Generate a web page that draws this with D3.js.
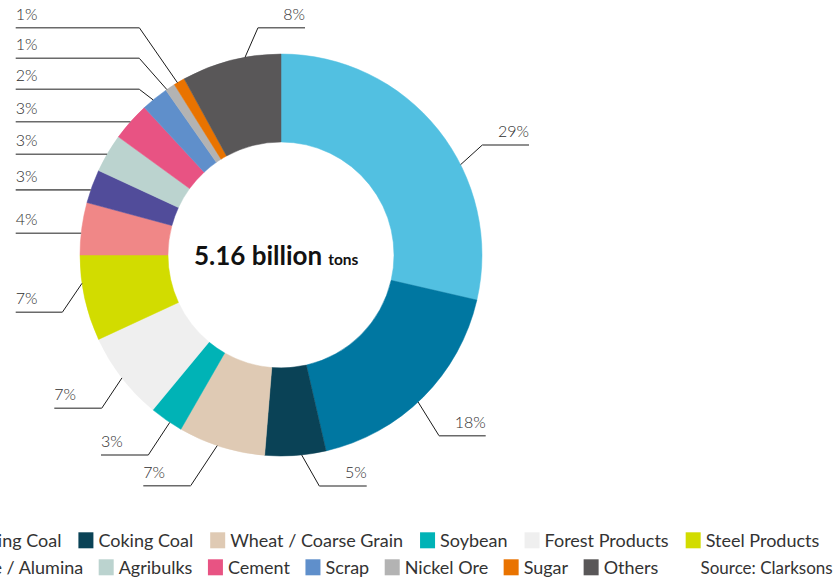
<!DOCTYPE html>
<html>
<head>
<meta charset="utf-8">
<script src="https://cdn.jsdelivr.net/npm/d3@7"></script>
<style>
  html, body { margin: 0; padding: 0; background: #fff; }
  svg { display: block; }
  text { font-family: Lato, "Noto Sans", sans-serif; }
</style>
</head>
<body>
<svg id="chart" width="834" height="580"></svg>
<script>
// ---- data ----
const categories = ["Iron Ore", "Steaming Coal", "Coking Coal", "Wheat / Coarse Grain", "Soybean",
  "Forest Products", "Steel Products", "Fertilizers", "Bauxite / Alumina", "Agribulks",
  "Cement", "Scrap", "Nickel Ore", "Sugar", "Others"];
const shares = [28.6, 17.8, 4.9, 7.0, 2.7, 7.1, 6.9, 4.2, 2.7, 3.1, 3.1, 2.2, 0.8, 0.9, 8.0];
const shareLabels = ["29%", "18%", "5%", "7%", "3%", "7%", "7%", "4%", "3%", "3%", "3%", "2%", "1%", "1%", "8%"];
const colors = ["#52c0e1", "#0077a1", "#0a4256", "#dfcab4", "#00b3b6", "#efefef", "#d2dc00",
  "#f08787", "#514c9a", "#bbd3cf", "#e85383", "#5f8fcb", "#b3b3b3", "#e97300", "#595758"];
const totalLabel = "5.16 billion";
const unitLabel = "tons";
const sourceLabel = "Source: Clarksons";
const legendRow1 = [0, 1, 2, 3, 4, 5, 6];
const legendRow2 = [7, 8, 9, 10, 11, 12, 13, 14];

// ---- layout (positions of label leaders: anchor angle on rim, elbow, end of underline) ----
const leaderLayout = [
  { a: 63.3,  ex: 482.3, ey: 145,   endX: 529,   side: "right" },
  { a: 137,   ex: 439,   ey: 435.7, endX: 485.7, side: "right" },
  { a: 174.1, ex: 319.3, ey: 486,   endX: 366.7, side: "right" },
  { a: 198.5, ex: 190.7, ey: 485.7, endX: 143.3, side: "left" },
  { a: 213.6, ex: 148.3, ey: 455,   endX: 101,   side: "left" },
  { a: 232.3, ex: 101.7, ey: 408.3, endX: 54.3,  side: "left" },
  { a: 261.9, ex: 62.3,  ey: 312.3, endX: 15.7,  side: "left" },
  { a: 276.2, ex: null,  ey: null,  endX: 15.7,  side: "left" },
  { a: 288.9, ex: null,  ey: null,  endX: 15.7,  side: "left" },
  { a: 300.1, ex: null,  ey: null,  endX: 15.7,  side: "left" },
  { a: 311.5, ex: null,  ey: null,  endX: 15.7,  side: "left" },
  { a: 320.5, ex: 139.3, ey: 89.3,  endX: 15.7,  side: "left" },
  { a: 325.4, ex: 139.3, ey: 58.3,  endX: 15.7,  side: "left" },
  { a: 329,   ex: 139.3, ey: 27.7,  endX: 15.7,  side: "left" },
  { a: 349.7, ex: 258,   ey: 27.7,  endX: 305,   side: "right" }
];

const cx = 281, cy = 255, rOuter = 201, rInner = 113;
const svg = d3.select("#chart");

const pie = d3.pie().sort(null).value(d => d).startAngle(0).endAngle(2 * Math.PI);
const arcs = pie(shares);
const arc = d3.arc().innerRadius(rInner).outerRadius(rOuter);

const g = svg.append("g").attr("transform", `translate(${cx},${cy})`);
g.selectAll("path.slice")
  .data(arcs)
  .join("path")
  .attr("class", "slice")
  .attr("d", arc)
  .attr("fill", (d, i) => colors[i])
  .attr("stroke", (d, i) => colors[i])
  .attr("stroke-width", 0.5);

// leaders
const rimPoint = (deg) => {
  const t = deg * Math.PI / 180;
  return [cx + rOuter * Math.sin(t), cy - rOuter * Math.cos(t)];
};
const lg = svg.append("g");
leaderLayout.forEach((L, i) => {
  const [sx, sy] = rimPoint(L.a);
  const ex = L.ex == null ? sx : L.ex;
  const ey = L.ey == null ? sy : L.ey;
  if (L.ex != null) {
    lg.append("line").attr("x1", sx).attr("y1", sy).attr("x2", ex).attr("y2", ey)
      .attr("stroke", "#1a1a1a").attr("stroke-width", 1);
  }
  lg.append("line").attr("x1", ex).attr("y1", ey).attr("x2", L.endX).attr("y2", ey)
    .attr("stroke", "#6a6a6a").attr("stroke-width", 1.6);
  lg.append("text")
    .attr("x", L.endX)
    .attr("y", ey - 8)
    .attr("text-anchor", L.side === "right" ? "end" : "start")
    .attr("font-size", 16)
    .attr("font-weight", 300)
    .attr("fill", "#2e2e2e")
    .text(shareLabels[i]);
});

// center text
const ct = svg.append("text").attr("x", 194).attr("y", 265).attr("fill", "#111");
ct.append("tspan").attr("font-size", 26).attr("font-weight", 700).text(totalLabel);
ct.append("tspan").attr("font-size", 15.5).attr("font-weight", 700).attr("dx", 6).text(unitLabel);

// legend
const fs = 18, sw = 15, gapIn = 5;
function drawRow(items, rightEdge, yTop, gapOut) {
  const row = svg.append("g");
  const widths = items.map(i => {
    const t = row.append("text").attr("font-size", fs).text(categories[i]);
    const w = t.node().getComputedTextLength();
    t.remove();
    return w;
  });
  let total = 0;
  widths.forEach((w, k) => { total += sw + gapIn + w + (k < widths.length - 1 ? gapOut : 0); });
  let x = rightEdge - total;
  items.forEach((i, k) => {
    row.append("rect").attr("x", x).attr("y", yTop).attr("width", sw).attr("height", 16)
      .attr("fill", colors[i]);
    row.append("text").attr("x", x + sw + gapIn).attr("y", yTop + 14.5)
      .attr("font-size", fs).attr("fill", "#333").text(categories[i]);
    x += sw + gapIn + widths[k] + gapOut;
  });
}
drawRow(legendRow1, 819.3, 532.3, 17);
drawRow(legendRow2, 658.3, 559.3, 15.5);
svg.append("text").attr("x", 832.7).attr("y", 573.5).attr("text-anchor", "end")
  .attr("font-size", 17).attr("fill", "#333").text(sourceLabel);
</script>
</body>
</html>
